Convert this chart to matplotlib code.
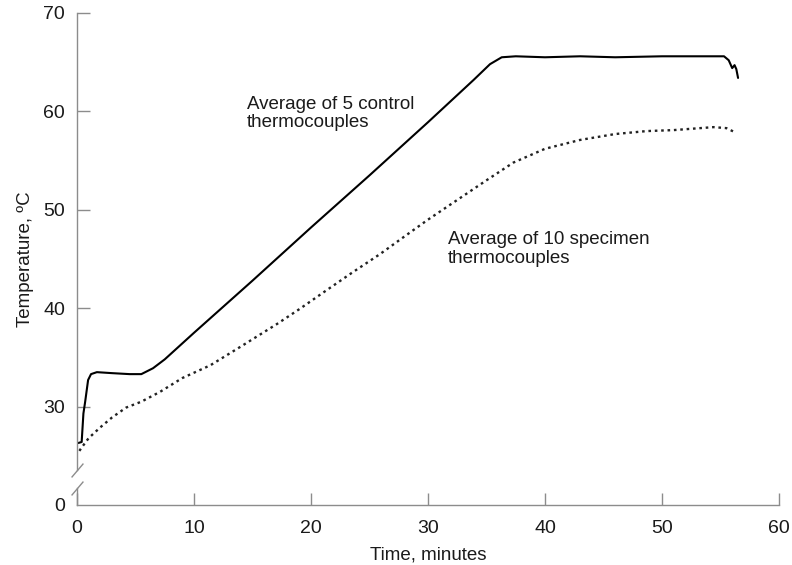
import matplotlib
matplotlib.use('Agg')
import matplotlib.pyplot as plt

plt.rcParams['font.family'] = ['Liberation Sans', 'DejaVu Sans']

# average of 5 control thermocouples (solid)
control_t = [0.1, 0.4, 0.55, 0.7, 0.95, 1.2, 1.7, 3.0, 4.5, 5.5, 6.5, 7.5, 10, 15, 20, 25,
             30, 33.9, 35.3, 36.3, 37.5, 40, 43, 46, 50, 53, 55.3, 55.7, 56.0, 56.2, 56.35, 56.5]
control_T = [26.3, 26.4, 29.3, 30.5, 32.7, 33.3, 33.5, 33.4, 33.3, 33.3, 33.9, 34.8, 37.5, 42.8, 48.2, 53.5,
             58.9, 63.2, 64.8, 65.5, 65.6, 65.5, 65.6, 65.5, 65.6, 65.6, 65.6, 65.2, 64.4, 64.7, 64.3, 63.4]

# average of 10 specimen thermocouples (dotted)
spec_t = [0.2, 0.5, 1.0, 2.0, 3.0, 4.2, 5.5, 7.1, 9, 11.4, 14, 17.1, 19, 21.3, 23.5, 25.9, 28,
          30, 32.5, 35, 37.3, 40, 43, 46, 48.7, 51, 54.4, 55.5, 56.2]
spec_T = [25.5, 26.0, 26.8, 27.9, 28.9, 29.9, 30.5, 31.5, 32.9, 34.2, 36.1, 38.4, 39.9, 41.8, 43.6, 45.5, 47.3,
          49.0, 51.0, 53.0, 54.8, 56.2, 57.1, 57.7, 58.0, 58.1, 58.4, 58.3, 57.9]

x_ticks = [0, 10, 20, 30, 40, 50, 60]
y_ticks = [20, 30, 40, 50, 60, 70]
y_ticklabels = ['0', '30', '40', '50', '60', '70']
break_lo, break_hi = 21.7, 23.6

axis_grey = '#8c8c8c'

fig = plt.figure(figsize=(7.92, 5.65), dpi=100)
ax = fig.add_axes([0.0972, 0.1062, 0.8864, 0.8708])

ax.plot(control_t, control_T, color='black', lw=1.5, solid_capstyle='round')
ax.plot(spec_t, spec_T, color='#222222', lw=1.7, linestyle=(0, (1.1, 1.6)))

ax.set_xlim(0, 60)
ax.set_ylim(20, 70)
ax.set_xticks(x_ticks)
ax.set_yticks(y_ticks)
ax.set_yticklabels(y_ticklabels)

for side in ['top', 'right']:
    ax.spines[side].set_visible(False)
for side in ['left', 'bottom']:
    ax.spines[side].set_color(axis_grey)
    ax.spines[side].set_linewidth(1.0)

# broken y axis
ax.spines['left'].set_bounds(break_hi, 70)
ax.plot([0, 0], [20, break_lo], color=axis_grey, lw=1.0, clip_on=False)
ax.plot([0, 0], [break_lo, break_hi], ls='none', marker=[(-0.85, -1), (0.85, 1)],
        ms=10, mec=axis_grey, mfc='none', mew=1.0, clip_on=False)

ax.tick_params(direction='in', length=9, width=1.0, color=axis_grey,
               labelsize=14, labelcolor='#1a1a1a')
ax.tick_params(axis='x', pad=11)
ax.tick_params(axis='y', pad=8.5)
ax.yaxis.get_major_ticks()[0].tick1line.set_visible(False)

ax.set_xlabel('Time, minutes', fontsize=13.5, color='#1a1a1a', labelpad=7)
ax.set_ylabel('Temperature, ºC', fontsize=13.5, color='#1a1a1a', labelpad=7)

ax.text(14.5, 59.8, 'Average of 5 control\nthermocouples', fontsize=13.5,
        va='center', ha='left', color='#1a1a1a', linespacing=1.12)
ax.text(31.7, 46.0, 'Average of 10 specimen\nthermocouples', fontsize=13.5,
        va='center', ha='left', color='#1a1a1a', linespacing=1.12)

fig.savefig('out.png', dpi=100)
